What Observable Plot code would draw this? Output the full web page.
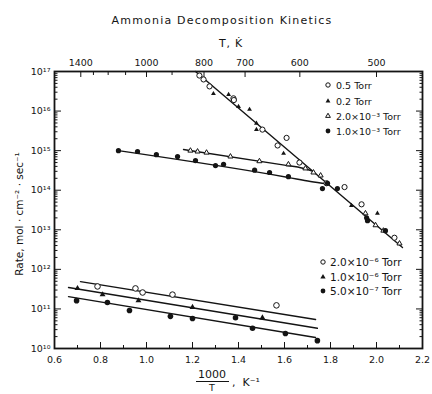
<!DOCTYPE html>
<html>
<head>
<meta charset="utf-8">
<script src="https://cdn.jsdelivr.net/npm/d3@7"></script>
<script src="https://cdn.jsdelivr.net/npm/@observablehq/plot@0.6"></script>
<style>
  body { margin: 0; background: #fff; }
  #chart svg { font-family: "DejaVu Sans", sans-serif; color: #111; overflow: visible; }
</style>
</head>
<body>
<div id="chart"></div>
<script>
// Rates in mol·cm⁻²·sec⁻¹ against 1000/T (K⁻¹)

// 0.5 Torr (open circles)
const x_05 = [1.230, 1.248, 1.274, 1.378, 1.380, 1.504, 1.609, 1.570, 1.665, 1.783, 1.861, 1.935, 2.078];
const r_05 = [7.9e16, 6.3e16, 4.2e16, 2.1e16, 1.9e16, 3.4e15, 2.1e15, 1.35e15, 5.0e14, 1.5e14, 1.2e14, 4.4e13, 6.3e12];

// 0.2 Torr (small filled triangles)
const x_02 = [1.291, 1.357, 1.400, 1.448, 1.478, 1.478, 1.596, 1.891, 2.004];
const r_02 = [2.75e16, 2.6e16, 1.3e16, 1.1e16, 4.9e15, 3.4e15, 8.5e14, 4.1e13, 2.6e13];

// 2.0×10⁻³ Torr (small open triangles)
const x_2m3 = [1.191, 1.222, 1.261, 1.365, 1.491, 1.617, 1.691, 1.726, 1.757, 1.952, 1.996, 2.030, 2.100];
const r_2m3 = [1.0e15, 9.5e14, 8.9e14, 7.1e14, 5.4e14, 4.5e14, 3.55e14, 2.8e14, 2.35e14, 2.6e13, 1.3e13, 9.5e12, 4.5e12];

// 1.0×10⁻³ Torr (filled circles)
const x_1m3 = [0.878, 0.961, 1.043, 1.135, 1.213, 1.300, 1.335, 1.470, 1.535, 1.617, 1.765, 1.787, 1.830, 1.957, 1.961, 2.039];
const r_1m3 = [1.0e15, 9.5e14, 7.9e14, 7.1e14, 5.6e14, 4.2e14, 4.5e14, 3.2e14, 2.8e14, 2.2e14, 1.1e14, 1.5e14, 1.1e14, 2.0e13, 1.7e13, 9.5e12];

// 2.0×10⁻⁶ Torr (open circles)
const x_2m6 = [0.787, 0.952, 0.983, 1.113, 1.565];
const r_2m6 = [3.7e11, 3.3e11, 2.6e11, 2.3e11, 1.23e11];

// 1.0×10⁻⁶ Torr (filled triangles)
const x_1m6 = [0.700, 0.809, 0.965, 1.200, 1.504];
const r_1m6 = [3.3e11, 2.3e11, 1.62e11, 1.1e11, 6.0e10];

// 5.0×10⁻⁷ Torr (filled circles)
const x_5m7 = [0.696, 0.830, 0.926, 1.104, 1.200, 1.387, 1.461, 1.604, 1.743];
const r_5m7 = [1.62e11, 1.45e11, 9.1e10, 6.5e10, 5.75e10, 6.0e10, 3.24e10, 2.4e10, 1.58e10];

// Fitted lines
const fitSteepX = [1.213, 2.113];
const fitSteepR = [1.0e17, 3.55e12];
const fit2m3X = [1.161, 1.600, 1.680, 1.725];
const fit2m3R = [1.07e15, 4.3e14, 3.6e14, 3.0e14];
const fit1m3X = [0.878, 1.617, 1.713, 1.787];
const fit1m3R = [1.0e15, 2.1e14, 1.66e14, 1.45e14];
const fit2m6X = [0.713, 1.735];
const fit2m6R = [4.9e11, 5.4e10];
const fit1m6X = [0.661, 1.743];
const fit1m6R = [3.47e11, 3.24e10];
const fit5m7X = [0.661, 1.735];
const fit5m7R = [2.04e11, 1.9e10];

// Axis ticks
const xMajor = [0.6, 0.8, 1.0, 1.2, 1.4, 1.6, 1.8, 2.0, 2.2];
const xMinor = [0.7, 0.9, 1.1, 1.3, 1.5, 1.7, 1.9, 2.1];
const yMajor = [1e10, 1e11, 1e12, 1e13, 1e14, 1e15, 1e16, 1e17];
const yMinor = d3.range(10, 17).flatMap(e => d3.range(2, 10).map(m => m * 10 ** e));
const tempTicks = [1400, 1000, 800, 700, 600, 500];
const tempMinor = [1300, 1200, 1100, 900];

const legendUpper = ["0.5 Torr", "0.2 Torr", "2.0×10⁻³ Torr", "1.0×10⁻³ Torr"];
const legendLower = ["2.0×10⁻⁶ Torr", "1.0×10⁻⁶ Torr", "5.0×10⁻⁷ Torr"];

const rows = (xs, rs) => xs.map((x, i) => ({x, r: rs[i]}));
const sup = s => String(s).replace(/[0-9-]/g, c => "⁰¹²³⁴⁵⁶⁷⁸⁹⁻"["0123456789-".indexOf(c)] ?? c);
const ink = "#141414";

const lineOpts = {x: "x", y: "r", stroke: ink, strokeWidth: 1.4, curve: "monotone-x"};

const plot = Plot.plot({
  width: 432,
  height: 394,
  marginTop: 71,
  marginBottom: 46,
  marginLeft: 54,
  marginRight: 10,
  style: {fontFamily: "DejaVu Sans, sans-serif", fontSize: "9.5px", color: ink, background: "#fff"},
  x: {domain: [0.6, 2.2]},
  y: {type: "log", domain: [1e10, 1e17]},
  marks: [
    // fitted lines
    Plot.line(rows(fitSteepX, fitSteepR), lineOpts),
    Plot.line(rows(fit2m3X, fit2m3R), lineOpts),
    Plot.line(rows(fit1m3X, fit1m3R), lineOpts),
    Plot.line(rows(fit2m6X, fit2m6R), lineOpts),
    Plot.line(rows(fit1m6X, fit1m6R), lineOpts),
    Plot.line(rows(fit5m7X, fit5m7R), lineOpts),
    // measured points
    Plot.dot(rows(x_05, r_05), {x: "x", y: "r", r: 2.6, stroke: ink, fill: "#fff", strokeWidth: 1}),
    Plot.dot(rows(x_02, r_02), {x: "x", y: "r", r: 1.8, symbol: "triangle", fill: ink}),
    Plot.dot(rows(x_2m3, r_2m3), {x: "x", y: "r", r: 1.9, symbol: "triangle", stroke: ink, fill: "#fff", strokeWidth: 1}),
    Plot.dot(rows(x_1m3, r_1m3), {x: "x", y: "r", r: 2.6, fill: ink}),
    Plot.dot(rows(x_2m6, r_2m6), {x: "x", y: "r", r: 2.8, stroke: ink, fill: "#fff", strokeWidth: 1}),
    Plot.dot(rows(x_1m6, r_1m6), {x: "x", y: "r", r: 2.2, symbol: "triangle", fill: ink}),
    Plot.dot(rows(x_5m7, r_5m7), {x: "x", y: "r", r: 2.8, fill: ink}),
    // axes with inward ticks
    Plot.axisX(xMajor, {anchor: "bottom", tickSize: -6, tickPadding: 14, tickFormat: d => d.toFixed(1), label: null}),
    Plot.axisX(xMinor, {anchor: "bottom", tickSize: -3, tickFormat: () => "", label: null}),
    Plot.axisX(tempTicks.map(t => 1000 / t), {anchor: "top", tickSize: -5, tickPadding: 11, tickFormat: d => String(Math.round(1000 / d)), label: null}),
    Plot.axisX(tempMinor.map(t => 1000 / t), {anchor: "top", tickSize: -3, tickFormat: () => "", label: null}),
    Plot.axisY(yMajor, {anchor: "left", tickSize: -7, tickPadding: 11, tickFormat: d => "10" + sup(Math.round(Math.log10(d))), label: null}),
    Plot.axisY(yMinor, {anchor: "left", tickSize: -3.5, tickFormat: () => "", label: null}),
    Plot.axisY(yMajor, {anchor: "right", tickSize: -7, tickFormat: () => "", label: null}),
    Plot.axisY(yMinor, {anchor: "right", tickSize: -3.5, tickFormat: () => "", label: null}),
    Plot.frame({stroke: ink, strokeWidth: 1.8})
  ]
});

document.getElementById("chart").appendChild(plot);

// Titles, axis captions and legends
const svg = d3.select(plot);
const g = svg.append("g").attr("fill", ink).attr("font-family", "DejaVu Sans, sans-serif").attr("text-anchor", "start");

g.append("text").attr("x", 222).attr("y", 24).attr("text-anchor", "middle")
  .attr("font-size", 11).attr("letter-spacing", 1.2).text("Ammonia Decomposition Kinetics");
g.append("text").attr("x", 231).attr("y", 47).attr("text-anchor", "middle")
  .attr("font-size", 11).attr("letter-spacing", 0.8).text("T, K\u0307");

g.append("text").attr("transform", "translate(23,214) rotate(-90)").attr("text-anchor", "middle")
  .attr("font-size", 10.5).text("Rate, mol · cm⁻² · sec⁻¹");

g.append("text").attr("x", 212).attr("y", 378).attr("text-anchor", "middle").attr("font-size", 11).text("1000");
g.append("line").attr("x1", 196).attr("x2", 229).attr("y1", 381.5).attr("y2", 381.5).attr("stroke", ink).attr("stroke-width", 1.2);
g.append("text").attr("x", 212).attr("y", 391).attr("text-anchor", "middle").attr("font-size", 9.5).text("T");
g.append("text").attr("x", 232).attr("y", 386).attr("font-size", 11).text(",  K⁻¹");

const upperLegend = g.append("g").attr("font-size", 9.5);
legendUpper.forEach((label, i) => {
  const y = [85, 101, 116, 131][i];
  upperLegend.append("text").attr("x", 336).attr("y", y + 3.5).text(label);
});
const lowerLegend = g.append("g").attr("font-size", 10.5);
legendLower.forEach((label, i) => {
  const y = [262, 277, 291][i];
  lowerLegend.append("text").attr("x", 330).attr("y", y + 4).text(label);
});
const sym = (type, size) => d3.symbol(type, size)();
// legend markers
upperLegend.append("circle").attr("cx", 328).attr("cy", 85).attr("r", 2.2).attr("fill", "#fff").attr("stroke", ink);
upperLegend.append("path").attr("d", sym(d3.symbolTriangle, 10)).attr("transform", "translate(328,101)");
upperLegend.append("path").attr("d", sym(d3.symbolTriangle, 10)).attr("transform", "translate(328,116)").attr("fill", "#fff").attr("stroke", ink);
upperLegend.append("circle").attr("cx", 328).attr("cy", 131).attr("r", 2.4);
lowerLegend.append("circle").attr("cx", 323).attr("cy", 262).attr("r", 2.2).attr("fill", "#fff").attr("stroke", ink);
lowerLegend.append("path").attr("d", sym(d3.symbolTriangle, 12)).attr("transform", "translate(323,277)");
lowerLegend.append("circle").attr("cx", 323).attr("cy", 291).attr("r", 2.4);
</script>
</body>
</html>
